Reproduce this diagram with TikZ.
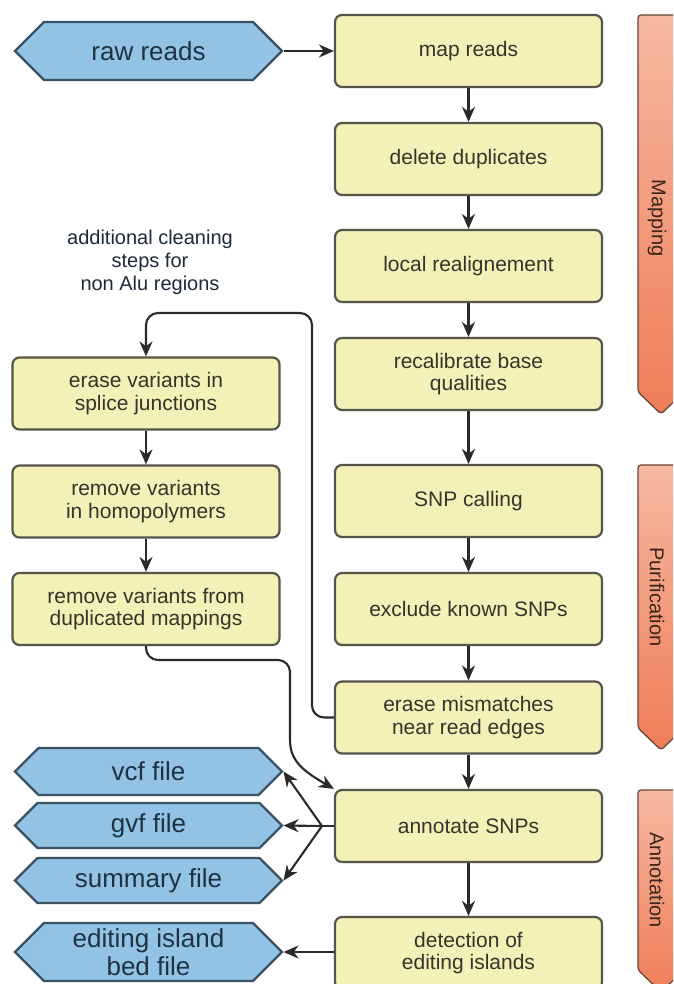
\documentclass[tikz,border=0pt]{standalone}
\usepackage{fontspec}
\setmainfont{Liberation Sans}
\usetikzlibrary{arrows.meta,shapes.symbols,calc}

\definecolor{boxfill}{HTML}{F4F1B8}
\definecolor{boxline}{HTML}{55554A}
\definecolor{hexfill}{HTML}{92C3E4}
\definecolor{hexline}{HTML}{3A5263}
\definecolor{barTop}{HTML}{F6B9A2}
\definecolor{barBot}{HTML}{EF7D58}
\definecolor{barline}{HTML}{6A4438}
\definecolor{linec}{HTML}{2A2A2A}
\definecolor{boxtext}{HTML}{34342A}
\definecolor{hextext}{HTML}{1E3244}
\definecolor{bartext}{HTML}{3B2418}
\definecolor{notetext}{HTML}{1E2A3A}

\begin{document}
\begin{tikzpicture}[x=1pt,y=-1pt,
  stepbox/.style={draw=boxline, fill=boxfill, line width=2.2pt, rounded corners=7pt,
    minimum width=267pt, minimum height=72pt, align=center, text=boxtext,
    font=\fontsize{21}{22.5}\selectfont, inner sep=0pt},
  hexbox/.style={shape=signal, signal to=west and east, signal pointer angle=90,
    draw=hexline, fill=hexfill, line width=2.2pt, minimum width=267pt,
    minimum height=47pt, align=center, text=hextext,
    font=\fontsize{26}{28}\selectfont, inner sep=0pt},
  conn/.style={draw=linec, line width=2.1pt},
  arr/.style={conn, -{Stealth[length=15pt,width=13pt]}},
  phase/.style={draw=barline, line width=1.3pt, rounded corners=3pt,
    top color=barTop, bottom color=barBot},
  phaselabel/.style={rotate=-90, text=bartext, font=\fontsize{20}{22}\selectfont},
]
\useasboundingbox (0,0) rectangle (673,984);
\clip (0,0) rectangle (673,984);
\fill[white] (0,0) rectangle (673,984);

% phase bars on the right
\path[phase] (638,15) -- (684,15) -- (684,392) -- (661,414) -- (638,392) -- cycle;
\path[phase] (638,465) -- (684,465) -- (684,728) -- (661,750) -- (638,728) -- cycle;
\path[phase] (638,790) -- (684,790) -- (684,970) -- (661,992) -- (638,970) -- cycle;
\node[phaselabel] (pmap) at (657,218) {Mapping};
\node[phaselabel] (ppur) at (657,597) {Purification};
\node[phaselabel] (pann) at (657,880) {Annotation};

% main pipeline
\node[stepbox] (b1) at (468.5,51) {map reads};
\node[stepbox] (b2) at (468.5,159) {delete duplicates};
\node[stepbox] (b3) at (468.5,266) {local realignement};
\node[stepbox] (b4) at (468.5,374) {recalibrate base\\qualities};
\node[stepbox] (b5) at (468.5,501) {SNP calling};
\node[stepbox] (b6) at (468.5,609) {exclude known SNPs};
\node[stepbox] (b7) at (468.5,717.5) {erase mismatches\\near read edges};
\node[stepbox] (b8) at (468.5,826) {annotate SNPs};
\node[stepbox] (b9) at (468.5,953) {detection of\\editing islands};

% extra cleaning branch
\node[stepbox] (l1) at (146,393.5) {erase variants in\\splice junctions};
\node[stepbox] (l2) at (146,501.5) {remove variants\\in homopolymers};
\node[stepbox] (l3) at (146,609) {remove variants from\\duplicated mappings};
\node[align=center, text=notetext, font=\fontsize{20}{23}\selectfont] (note) at (150,262)
  {additional cleaning\\steps for\\non Alu regions};

% inputs and outputs
\node[hexbox, minimum height=58pt] (raw) at (148.5,51) {raw reads};
\node[hexbox] (vcf) at (148.5,771.5) {vcf file};
\node[hexbox, minimum height=45pt] (gvf) at (148.5,825.5) {gvf file};
\node[hexbox, minimum height=45pt] (sum) at (148.5,880.5) {summary file};
\node[hexbox, minimum height=58pt] (bed) at (148.5,952) {editing island\\bed file};

% connectors
\draw[arr] (raw.east) -- (b1.west |- raw.east);
\foreach \a/\b in {b1/b2,b2/b3,b3/b4,b4/b5,b5/b6,b6/b7,b7/b8,b8/b9,l1/l2,l2/l3}
  \draw[arr] (\a.south) -- (\b.north);

\coordinate (loop) at (312,313);
\draw[arr, rounded corners=12pt] (b7.west) -| (loop) -| (l1.north);

\coordinate (bend) at (290,660);
\coordinate (drop) at (290,728);
\draw[arr, rounded corners=12pt] (l3.south) |- (bend) -- (drop)
  .. controls (290,762) and (305,772) .. (b8.north west);

\coordinate (fan) at (322,826);
\draw[conn] (b8.west) -- (fan);
\draw[arr] (fan) -- (vcf.east);
\draw[arr] (fan) -- (gvf.east);
\draw[arr] (fan) -- (sum.east);
\draw[arr] (b9.west |- bed.east) -- (bed.east);
\end{tikzpicture}
\end{document}
